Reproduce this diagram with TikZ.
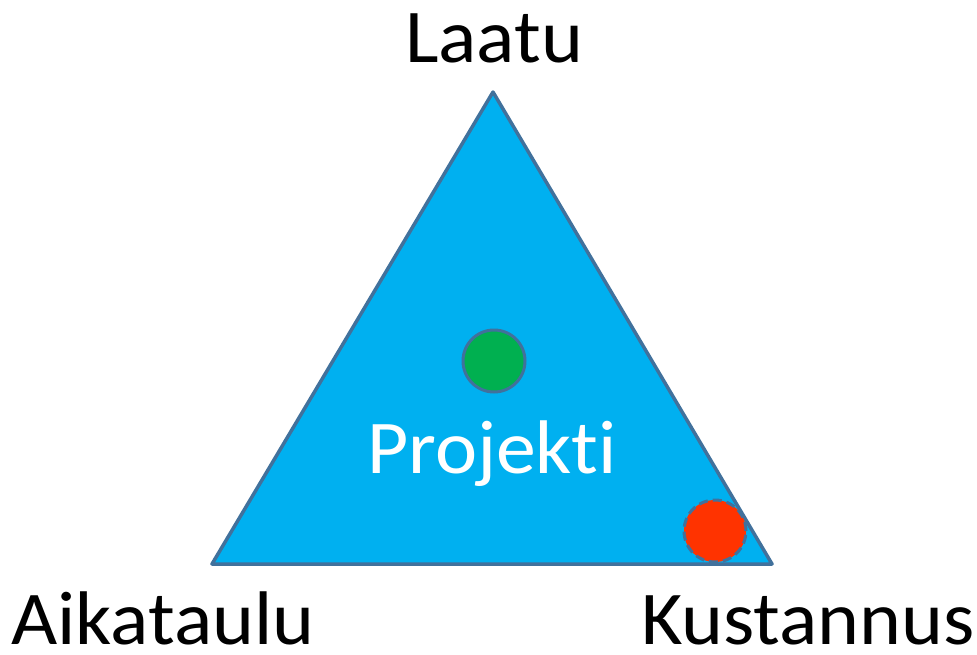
\documentclass[tikz,border=0pt]{standalone}
\usepackage{fontspec}
\setmainfont[Ligatures=NoCommon,FakeStretch=1.05]{Carlito}
\definecolor{edge}{HTML}{41719C}
\definecolor{tfill}{HTML}{00B0F0}
\definecolor{gfill}{HTML}{00B050}
\definecolor{rfill}{HTML}{FF3300}
\begin{document}
\begin{tikzpicture}[x=1pt,y=-1pt,
  lbl/.style={anchor=base,inner sep=0pt,text depth=0pt,font=\fontsize{76}{80}\selectfont},
  dot/.style={circle,draw=edge,line width=3pt,minimum size=62pt,inner sep=0pt}]
\useasboundingbox (0,0) rectangle (977,654);
\coordinate (top) at (493,92);
\coordinate (bl) at (212,564);
\coordinate (br) at (772,564);
\draw[edge,fill=tfill,line width=3.5pt,line join=round] (top) -- (br) -- (bl) -- cycle;
\node[dot,fill=gfill] (green) at (494,361) {};
\node[dot,fill=rfill,dashed,dash pattern=on 9pt off 5pt] (red) at (715,531) {};
\node[lbl] (laatu) at (494,62) {Laatu};
\node[lbl,white] (proj) at (492,473) {Projekti};
\node[lbl] (aika) at (163,644) {Aikataulu};
\node[lbl] (kust) at (808,644) {Kustannus};
\end{tikzpicture}
\end{document}
